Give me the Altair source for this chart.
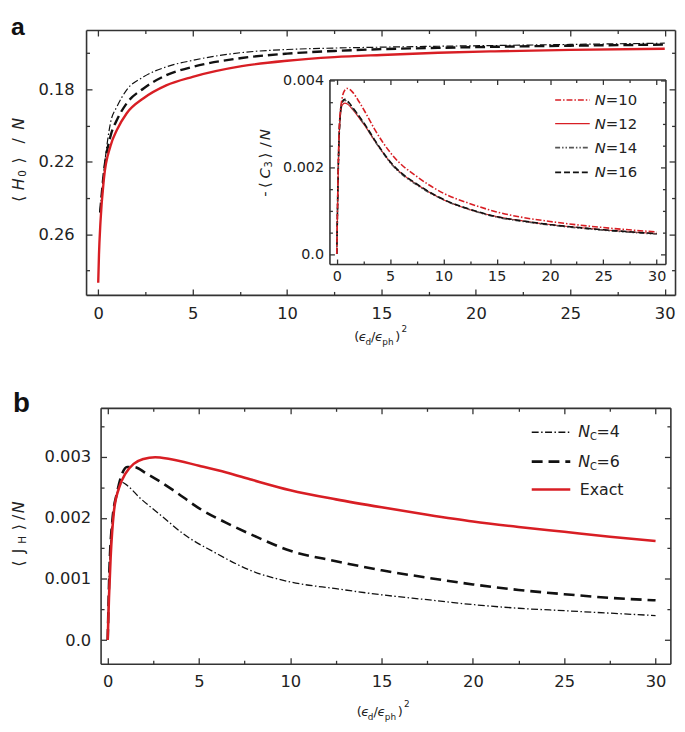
import altair as alt
import pandas as pd

# ---------------- data ----------------
# Panel a : <H0>/N  versus (eps_d/eps_ph)^2
a_exact_x = [0, 0.04, 0.12, 0.3, 0.65, 1.0, 1.5, 2.4, 3.6, 5, 7.6, 10, 12.5, 15, 18, 21, 25, 30]
a_exact_y = [0.2868, 0.2713, 0.2531, 0.2295, 0.2113, 0.2022, 0.1933, 0.1849, 0.1778, 0.1731,
             0.1672, 0.1642, 0.1622, 0.1610, 0.1598, 0.1590, 0.1582, 0.1576]
a_nc6_x = [0.1, 0.3, 0.65, 1.0, 1.5, 2.4, 3.6, 5, 7.6, 10, 12.5, 15, 18, 21, 25, 30]
a_nc6_y = [0.2480, 0.2258, 0.2058, 0.1967, 0.1878, 0.1795, 0.1722, 0.1676, 0.1627, 0.1603,
           0.1588, 0.1578, 0.1571, 0.1565, 0.1559, 0.1553]
a_nc4_x = [0.1, 0.39, 0.65, 1.0, 1.5, 2.4, 3.6, 5, 7.6, 10, 12.5, 15, 18, 21, 25, 30]
a_nc4_y = [0.2470, 0.2167, 0.1985, 0.1894, 0.1804, 0.1731, 0.1676, 0.1640, 0.1597, 0.1580,
           0.1572, 0.1567, 0.1562, 0.1558, 0.1552, 0.1545]

# Inset : -<C3>/N for N = 10, 12, 14, 16
inset_x = [0, 0.25, 0.5, 0.75, 1.0, 1.5, 2.1, 2.7, 3.6, 5.2, 7.7, 10, 12.5, 15, 17.5, 20, 25, 30]
inset_n10 = [0, 0.0030, 0.00358, 0.00377, 0.00381, 0.00372, 0.00350, 0.00325, 0.00285, 0.00228,
             0.00175, 0.00140, 0.00116, 0.00097, 0.00084, 0.00075, 0.00061, 0.00051]
inset_n12 = [0, 0.00285, 0.00342, 0.00347, 0.00345, 0.00332, 0.00313, 0.00293, 0.00259, 0.00206,
             0.00157, 0.00125, 0.00102, 0.00086, 0.00076, 0.00068, 0.00056, 0.00047]
inset_n14 = [0, 0.00288, 0.00348, 0.00354, 0.00350, 0.00335, 0.00315, 0.00294, 0.00259, 0.00205,
             0.00156, 0.00125, 0.00102, 0.00085, 0.00075, 0.00067, 0.00055, 0.00046]
inset_n16 = [0, 0.00290, 0.00350, 0.00356, 0.00352, 0.00337, 0.00317, 0.00296, 0.00261, 0.00207,
             0.00158, 0.00126, 0.00103, 0.00086, 0.00076, 0.00068, 0.00056, 0.00047]

# Panel b : <J_H>/N
b_exact_x = [0, 0.07, 0.16, 0.34, 0.61, 0.97, 1.42, 1.96, 2.6, 3.4, 5.0, 6.5, 7.9, 10, 12.5,
             15, 17.5, 20, 22.5, 25, 27.5, 30]
b_exact_y = [0, 0.0007, 0.00135, 0.0021, 0.00248, 0.00272, 0.00288, 0.00296, 0.00299, 0.00296,
             0.00285, 0.00274, 0.00262, 0.00245, 0.00230, 0.00217, 0.00205, 0.00194,
             0.00185, 0.00177, 0.00169, 0.00162]
b_nc6_x = [0, 0.1, 0.25, 0.52, 0.79, 1.06, 1.42, 2.14, 3.59, 5.03, 6.47, 7.9, 10, 12.5, 15,
           17.5, 20, 22.5, 25, 27.5, 30]
b_nc6_y = [0, 0.0012, 0.00194, 0.00242, 0.00272, 0.00283, 0.00283, 0.00272, 0.00245, 0.00215,
           0.00192, 0.00172, 0.00146, 0.00129, 0.00114, 0.00102, 0.00091, 0.00082, 0.00075,
           0.00069, 0.00065]
b_nc4_x = [0, 0.1, 0.34, 0.61, 0.79, 1.06, 1.78, 2.87, 4.31, 5.75, 7.9, 10, 12.5, 15, 17.5,
           20, 22.5, 25, 27.5, 30]
b_nc4_y = [0, 0.0012, 0.00215, 0.00248, 0.00258, 0.00253, 0.00232, 0.00205, 0.00170, 0.00145,
           0.00113, 0.00095, 0.00084, 0.00074, 0.00066, 0.00058, 0.00052, 0.00048, 0.00044,
           0.00040]

# tick values
x_major = [0, 5, 10, 15, 20, 25, 30]
x_minor = [2.5, 7.5, 12.5, 17.5, 22.5, 27.5]
a_y_major = [0.18, 0.22, 0.26]
a_y_minor = [0.16, 0.20, 0.24, 0.28]
in_y_major = [0.0, 0.002, 0.004]
in_y_minor = [0.0005, 0.001, 0.0015, 0.0025, 0.003, 0.0035]
b_y_major = [0.0, 0.001, 0.002, 0.003]
b_y_minor = [0.0005, 0.0015, 0.0025, 0.0035]

# ---------------- layout helpers ----------------
W, H = 677, 724
OFF = 8
FONT = "DejaVu Sans"
RED = "#d81e24"
BLACK = "#111111"
AX = "#333333"


def cx(p):
    return p - OFF


def cy(p):
    return p - OFF


dummy1 = pd.DataFrame({"k": [0]})


def line_layer(xs, ys, xsc, ysc, color, width, dash=None, opacity=1.0):
    df = pd.DataFrame({"x": xs, "y": ys})
    kw = dict(color=color, strokeWidth=width, interpolate="monotone", opacity=opacity)
    if dash:
        kw["strokeDash"] = dash
    return alt.Chart(df).mark_line(**kw).encode(
        x=alt.X("x:Q", scale=xsc, axis=None),
        y=alt.Y("y:Q", scale=ysc, axis=None),
    )


def frame_layers(xdom, xr, ydom, yr, xmaj, xmin, ymaj, ymin, lab_size,
                 xpad, ypad, yexpr, tmaj=6, tmin=3.5):
    left, right = xr
    top, bottom = min(yr), max(yr)
    xs = alt.Scale(domain=xdom, range=list(xr), nice=False, zero=False)
    ys = alt.Scale(domain=ydom, range=list(yr), nice=False, zero=False)
    df = pd.DataFrame({"x": xdom, "y": ydom})
    base = alt.Chart(df).mark_point(opacity=0)
    common = dict(grid=False, title=None, labelFont=FONT, labelColor="#222222",
                  domainColor=AX, tickColor=AX, domainWidth=1.6, tickWidth=1.3,
                  labelFlush=False, labelOverlap=False)
    layers = []
    # labels
    layers.append(base.encode(
        x=alt.X("x:Q", scale=xs, axis=alt.Axis(
            orient="bottom", offset=bottom - H, values=xmaj, ticks=False, tickSize=0,
            domain=False, labelPadding=xpad, labelFontSize=lab_size, format="d", **common)),
        y=alt.Y("y:Q", scale=ys, axis=alt.Axis(
            orient="left", offset=-left, values=ymaj, ticks=False, tickSize=0,
            domain=False, labelPadding=ypad, labelFontSize=lab_size, labelExpr=yexpr,
            **common)),
    ))
    # ticks, pointing inward
    for vals_x, vals_y, size, dom in ((xmaj, ymaj, tmaj, True), (xmin, ymin, tmin, False)):
        layers.append(base.encode(
            x=alt.X("x:Q", scale=xs, axis=alt.Axis(
                orient="top", offset=-bottom, values=vals_x, tickSize=size, labels=False,
                domain=dom, **common)),
            y=alt.Y("y:Q", scale=ys, axis=alt.Axis(
                orient="right", offset=left - W, values=vals_y, tickSize=size, labels=False,
                domain=dom, **common)),
        ))
        layers.append(base.encode(
            x=alt.X("x:Q", scale=xs, axis=alt.Axis(
                orient="bottom", offset=top - H, values=vals_x, tickSize=size, labels=False,
                domain=dom, **common)),
            y=alt.Y("y:Q", scale=ys, axis=alt.Axis(
                orient="left", offset=-right, values=vals_y, tickSize=size, labels=False,
                domain=dom, **common)),
        ))
    return xs, ys, layers


def txt(s, px, py, size, angle=0, style="normal", weight="normal", align="center",
        baseline="middle", color="#222222", font=FONT):
    return alt.Chart(dummy1).mark_text(
        text=s, fontSize=size, angle=angle, fontStyle=style, fontWeight=weight,
        align=align, baseline=baseline, color=color, font=font,
    ).encode(x=alt.value(cx(px)), y=alt.value(cy(py)))


def legend_line(x0, x1, py, color, width, dash=None):
    kw = dict(color=color, strokeWidth=width)
    if dash:
        kw["strokeDash"] = dash
    return alt.Chart(dummy1).mark_rule(**kw).encode(
        x=alt.value(cx(x0)), x2=alt.value(cx(x1)), y=alt.value(cy(py)))


layers = []

# ---------------- panel a ----------------
a_left, a_right, a_top, a_bot = 87, 683, 26, 294
ax0, ax1 = 99.3, 19.11           # pixel of x=0, px per unit
ay0, ay1 = 86.0, 1833.0          # pixel of 0.18, px per unit
a_xdom = [(a_left - ax0) / ax1, (a_right - ax0) / ax1]
a_ydom = [0.18 - (ay0 - a_top) / ay1, 0.18 + (a_bot - ay0) / ay1]
a_xs, a_ys, fl = frame_layers(
    a_xdom, (cx(a_left), cx(a_right)), a_ydom, (cy(a_top), cy(a_bot)),
    x_major, x_minor, a_y_major, a_y_minor, 16.5, 11, 12, "format(datum.value, '.2f')")
layers += fl
layers.append(line_layer(a_nc4_x, a_nc4_y, a_xs, a_ys, BLACK, 1.2, [7, 2.5, 1.5, 2.5]))
layers.append(line_layer(a_nc6_x, a_nc6_y, a_xs, a_ys, BLACK, 2.4, [10, 5]))
layers.append(line_layer(a_exact_x, a_exact_y, a_xs, a_ys, RED, 2.4))

# ---------------- inset ----------------
i_left, i_right, i_top, i_bot = 333.3, 673.3, 76, 262.7
ix0, ix1 = 340.7, 10.79
iy0, iy1 = 252.7, 44000.0
i_xdom = [(i_left - ix0) / ix1, (i_right - ix0) / ix1]
i_ydom = [-(i_bot - iy0) / iy1, (iy0 - i_top) / iy1]
i_xs, i_ys, fl = frame_layers(
    i_xdom, (cx(i_left), cx(i_right)), i_ydom, (cy(i_bot), cy(i_top)),
    x_major, x_minor, in_y_major, in_y_minor, 14.5, 6, 6,
    "datum.value == 0 ? '0.0' : format(datum.value, '.3f')", tmaj=5, tmin=3)
layers += fl
layers.append(line_layer(inset_x, inset_n12, i_xs, i_ys, RED, 1.2))
layers.append(line_layer(inset_x, inset_n14, i_xs, i_ys, "#555555", 1.6, [5, 2, 1.5, 2, 1.5, 2]))
layers.append(line_layer(inset_x, inset_n16, i_xs, i_ys, BLACK, 1.6, [6, 3]))
layers.append(line_layer(inset_x, inset_n10, i_xs, i_ys, RED, 1.6, [6, 2, 1.5, 2]))

# ---------------- panel b ----------------
b_left, b_right, b_top, b_bot = 101.7, 678.3, 408.3, 667.3
bx0, bx1 = 108.9, 18.48
by0, by1 = 643.3, 61900.0
b_xdom = [(b_left - bx0) / bx1, (b_right - bx0) / bx1]
b_ydom = [-(b_bot - by0) / by1, (by0 - b_top) / by1]
b_xs, b_ys, fl = frame_layers(
    b_xdom, (cx(b_left), cx(b_right)), b_ydom, (cy(b_bot), cy(b_top)),
    x_major, x_minor, b_y_major, b_y_minor, 16.5, 10, 10,
    "datum.value == 0 ? '0.0' : format(datum.value, '.3f')")
layers += fl
layers.append(line_layer(b_nc4_x, b_nc4_y, b_xs, b_ys, BLACK, 1.3, [7, 2.5, 1.5, 2.5]))
layers.append(line_layer(b_nc6_x, b_nc6_y, b_xs, b_ys, BLACK, 2.6, [11, 6]))
layers.append(line_layer(b_exact_x, b_exact_y, b_xs, b_ys, RED, 2.6))

# ---------------- panel letters ----------------
layers.append(txt("a", 11, 31, 25, weight="bold", align="left", baseline="alphabetic",
                  color="#111111", font="Liberation Sans"))
layers.append(txt("b", 13, 413, 28, weight="bold", align="left", baseline="alphabetic",
                  color="#111111", font="Liberation Sans"))

# ---------------- axis titles (rich text pieces) ----------------
TX = 19
# panel a y title  <H0>/N
for s, px, py, size, st in [("⟨", TX, 197, 16, "normal"), ("H", TX, 182, 16, "italic"),
                            ("0", TX + 4, 171, 10.5, "normal"), ("⟩", TX, 158, 16, "normal"),
                            ("/", TX, 138, 16, "normal"), ("N", TX, 121, 16, "italic")]:
    layers.append(txt(s, px, py, size, angle=270, style=st))
# inset y title  -<C3>/N
for s, px, py, size, st in [("-", 268, 192, 15, "normal"), ("⟨", 268, 183, 15, "normal"),
                            ("C", 268, 171, 15, "italic"), ("3", 272, 162, 10, "normal"),
                            ("⟩", 268, 153, 15, "normal"), ("/", 268, 142, 15, "normal"),
                            ("N", 268, 132, 15, "italic")]:
    layers.append(txt(s, px, py, size, angle=270, style=st))
# panel b y title  <J_H>/N
for s, px, py, size, st in [("⟨", TX, 566, 16, "normal"), ("J", TX, 553, 16, "normal"),
                            ("H", TX + 4, 542, 10.5, "normal"), ("⟩", TX, 529, 16, "normal"),
                            ("/", TX, 519, 16, "normal"), ("N", TX, 509, 16, "italic")]:
    layers.append(txt(s, px, py, size, angle=270, style=st))


def xtitle(cxp, cyp):
    out = []
    for s, dx, dy, size, st in [("(", -24, 0, 13, "normal"), ("ϵ", -18, 0, 13, "italic"),
                                ("d", -12.5, 5, 9, "normal"), ("/", -7.5, 0, 13, "normal"),
                                ("ϵ", -1.5, 0, 13, "italic"), ("ph", 7.5, 5, 9, "normal"),
                                (")", 17.5, 0, 13, "normal"), ("2", 24, -8, 9, "normal")]:
        out.append(txt(s, cxp + dx, cyp + dy, size, style=st))
    return out


layers += xtitle(385, 337)
layers += xtitle(387.5, 716)

# ---------------- legends ----------------
# inset legend
for i, (lab, color, w, dash) in enumerate([
        ("=10", RED, 1.6, [6, 2, 1.5, 2]), ("=12", RED, 1.2, None),
        ("=14", "#555555", 1.6, [5, 2, 1.5, 2, 1.5, 2]), ("=16", BLACK, 1.6, [6, 3])]):
    yy = [96.7, 120.7, 145, 170][i]
    layers.append(legend_line(561.7, 596.7, yy, color, w, dash))
    layers.append(txt("N", 601.7, yy, 15, style="italic", align="left"))
    layers.append(txt(lab, 613, yy, 15, align="left"))

# panel b legend
layers.append(legend_line(538, 577, 433, BLACK, 1.3, [7, 2.5, 1.5, 2.5]))
layers.append(legend_line(538, 577, 462.7, BLACK, 2.6, [11, 6]))
layers.append(legend_line(538, 577, 491, RED, 2.6))
for yy, lab in [(433, "=4"), (462.7, "=6")]:
    layers.append(txt("N", 585, yy, 16, style="italic", align="left"))
    layers.append(txt("C", 597, yy + 5, 10, align="left"))
    layers.append(txt(lab, 603.5, yy, 16, align="left"))
layers.append(txt("Exact", 586.5, 491, 16, align="left"))

chart = alt.layer(*layers).resolve_scale(x="independent", y="independent").properties(
    width=W, height=H, autosize=alt.AutoSizeParams(type="none"), padding=0,
    background="white",
).configure_view(stroke=None)

chart.save("out.html", embed_options={"renderer": "svg", "actions": False})
